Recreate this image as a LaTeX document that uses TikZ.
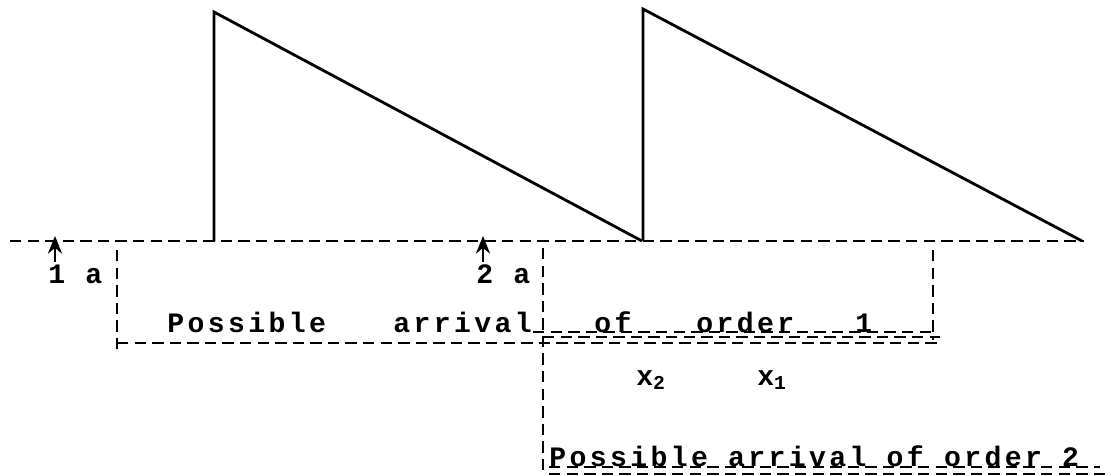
\documentclass[tikz,border=0pt]{standalone}
\usepackage{fontspec}
\newfontfamily\dotfont{Liberation Mono}[LetterSpace=12]
\usetikzlibrary{arrows.meta}
\begin{document}
\begin{tikzpicture}[
  x=0.02cm, y=-0.02cm,
  font=\dotfont\bfseries\fontsize{16}{18}\selectfont,
  txt/.style={inner sep=0pt, anchor=base west},
  saw/.style={line width=1.6pt, line join=miter},
  dline/.style={dash pattern=on 6.5pt off 3.5pt, line width=1.3pt},
  arr/.style={-{Stealth[length=10pt,width=8pt]}, line width=1.6pt}
]
  \useasboundingbox (0,0) rectangle (1111,476);
  % base line and sawtooth
  \coordinate (b0) at (10,241);
  \coordinate (b1) at (1084,241);
  \coordinate (s1) at (214,241);
  \coordinate (t1) at (214,12);
  \coordinate (e1) at (642,241);
  \coordinate (s2) at (643,241);
  \coordinate (t2) at (643,9);
  \coordinate (e2) at (1082,241);
  \draw[dline] (b0) -- (b1);
  \draw[saw] (s1) -- (t1) -- (e1);
  \draw[saw] (s2) -- (t2) -- (e2);
  % arrivals
  \coordinate (a1) at (55,262);
  \coordinate (a1t) at (55,236);
  \coordinate (a2) at (483,262);
  \coordinate (a2t) at (483,236);
  \draw[arr] (a1) -- (a1t);
  \draw[arr] (a2) -- (a2t);
  \node[txt] (l1) at (48,283) {1 a};
  \node[txt] (l2) at (476,283) {2 a};
  % windows
  \coordinate (w1a) at (117,250);
  \coordinate (w1b) at (117,350);
  \coordinate (w2a) at (543,248);
  \coordinate (w2b) at (543,476);
  \coordinate (w3a) at (933,250);
  \coordinate (w3b) at (933,340);
  \draw[dline] (w1a) -- (w1b);
  \draw[dline] (w2a) -- (w2b);
  \draw[dline] (w3a) -- (w3b);
  % order 1
  \node[txt] (p1) at (167,332) {Possible};
  \node[txt] (r1) at (393,332) {arrival};
  \node[txt] (f1) at (594,332) {of};
  \node[txt] (d1) at (696,332) {order};
  \node[txt] (n1) at (855,332) {1};
  \coordinate (u0a) at (533,332);
  \coordinate (u0b) at (933,332);
  \coordinate (u1a) at (117,343);
  \coordinate (u1b) at (940,343);
  \coordinate (u2a) at (543,337);
  \coordinate (u2b) at (940,337);
  \draw[dline] (u0a) -- (u0b);
  \draw[dline] (u1a) -- (u1b);
  \draw[dline] (u2a) -- (u2b);
  % lead times
  \node[txt] (x2) at (636,385) {x\textsubscript{2}};
  \node[txt] (x1) at (757,385) {x\textsubscript{1}};
  % order 2
  \node[txt] (o2) at (549,466) {Possible arrival of order 2};
  \coordinate (u3a) at (549,467);
  \coordinate (u3b) at (1100,467);
  \coordinate (u4a) at (549,474);
  \coordinate (u4b) at (1105,474);
  \draw[dline] (u3a) -- (u3b);
  \draw[dline] (u4a) -- (u4b);
\end{tikzpicture}
\end{document}
